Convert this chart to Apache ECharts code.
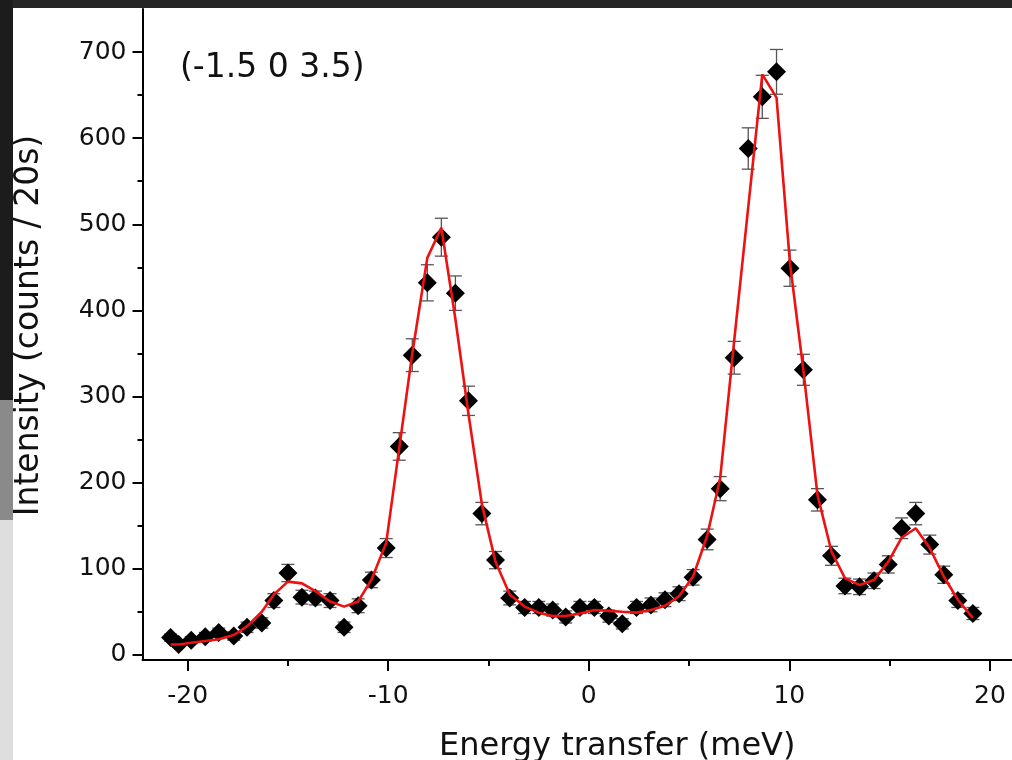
<!DOCTYPE html>
<html>
<head>
<meta charset="utf-8">
<script src="https://cdn.jsdelivr.net/npm/echarts@6/dist/echarts.min.js"></script>
<style>
html,body{margin:0;padding:0;background:#fff;}
#chart{width:1012px;height:760px;}
</style>
</head>
<body>
<div id="chart"></div>
<script>
// Energy transfer (meV) of each measured point
const energies = [-20.85, -20.45, -19.82, -19.12, -18.45, -17.7, -17.04, -16.3, -15.7, -15.0, -14.3, -13.63, -12.9, -12.2, -11.5, -10.84, -10.1, -9.45, -8.8, -8.05, -7.35, -6.65, -6.0, -5.33, -4.65, -3.94, -3.2, -2.49, -1.8, -1.15, -0.44, 0.28, 1.0, 1.67, 2.38, 3.1, 3.8, 4.5, 5.2, 5.9, 6.55, 7.25, 7.95, 8.65, 9.36, 10.03, 10.7, 11.4, 12.1, 12.77, 13.5, 14.22, 14.93, 15.6, 16.3, 17.0, 17.7, 18.4, 19.15];
// Measured intensity (counts / 20s)
const intensities = [20, 12, 17, 21, 26, 22, 32, 37, 63, 95, 67, 66, 63, 32, 57, 87, 124, 242, 348, 432, 485, 420, 295, 164, 110, 66, 55, 55, 52, 44, 55, 55, 45, 36, 55, 58, 64, 71, 90, 134, 193, 345, 588, 648, 677, 449, 331, 180, 115, 80, 79, 86, 105, 147, 164, 128, 93, 63, 48];
// Error bar half-heights
const errors = [4, 3, 4, 5, 5, 5, 6, 6, 8, 10, 8, 8, 8, 6, 8, 9, 11, 16, 19, 21, 22, 20, 17, 13, 10, 8, 7, 7, 7, 7, 7, 7, 7, 6, 7, 8, 8, 8, 9, 12, 14, 19, 24, 25, 26, 21, 18, 13, 11, 9, 9, 9, 10, 12, 13, 11, 10, 8, 7];
// Fit curve (red) at the same energies
const fitValues = [12, 12, 14, 16, 18, 23, 33, 50, 70, 85, 83, 74, 62, 56, 62, 87, 130, 240, 350, 461, 496, 390, 280, 175, 108, 70, 56, 49, 45, 45, 48, 52, 51, 50, 49, 52, 57, 68, 91, 138, 205, 365, 520, 674, 647, 455, 330, 186, 120, 89, 81, 87, 108, 136, 147, 124, 91, 64, 43];

const xMajorTicks = [-20, -10, 0, 10, 20];
const xMinorTicks = [-15, -5, 5, 15];
const yMajorTicks = [0, 100, 200, 300, 400, 500, 600, 700];
const yMinorTicks = [50, 150, 250, 350, 450, 550, 650];
const annotation = '(-1.5 0 3.5)';
const xTitle = 'Energy transfer (meV)';
const yTitle = 'Intensity (counts / 20s)';

const FONT = 'DejaVu Sans';
const chart = echarts.init(document.getElementById('chart'), null, {renderer: 'canvas'});

const points = energies.map((e, i) => [e, intensities[i]]);
const errData = energies.map((e, i) => [e, intensities[i] - errors[i], intensities[i] + errors[i]]);
const fitData = energies.map((e, i) => [e, fitValues[i]]);

const X_MIN = -22.25, X_MAX = 21.1, Y_MIN = -6, Y_MAX = 750;

const axisLineStyle = {show: true, onZero: false, lineStyle: {color: '#000', width: 2}};

chart.setOption({
  animation: false,
  backgroundColor: '#fff',
  grid: {left: 142.5, right: 0, top: 9, bottom: 100, containLabel: false, outerBoundsMode: 'none'},
  graphic: [
    {type: 'rect', shape: {x: 0, y: 0, width: 1012, height: 8}, style: {fill: '#262626'}, silent: true, z: 100},
    {type: 'rect', shape: {x: 0, y: 0, width: 13, height: 400}, style: {fill: '#1c1c1c'}, silent: true, z: 100},
    {type: 'rect', shape: {x: 0, y: 400, width: 13, height: 120}, style: {fill: '#8a8a8a'}, silent: true, z: 100},
    {type: 'rect', shape: {x: 0, y: 520, width: 13, height: 240}, style: {fill: '#dedede'}, silent: true, z: 100},
    {type: 'text', left: 180, top: 52, style: {text: annotation, font: '33px "DejaVu Sans"', fill: '#111'}, z: 100}
  ],
  xAxis: [
    {
      type: 'value', min: X_MIN, max: X_MAX, position: 'bottom',
      name: xTitle, nameLocation: 'middle', nameGap: 71,
      nameTextStyle: {fontFamily: FONT, fontSize: 32, color: '#111', padding: [0, 0, 0, 80]},
      axisLine: axisLineStyle,
      axisTick: {show: true, inside: false, length: 11, lineStyle: {color: '#000', width: 2}, customValues: xMajorTicks},
      axisLabel: {show: true, margin: 24, fontFamily: FONT, fontSize: 25, color: '#111', customValues: xMajorTicks, showMinLabel: true, showMaxLabel: true},
      splitLine: {show: false}
    },
    {
      type: 'value', min: X_MIN, max: X_MAX, position: 'bottom',
      axisLine: {show: false, onZero: false},
      axisTick: {show: true, inside: false, length: 6, lineStyle: {color: '#000', width: 2}, customValues: xMinorTicks},
      axisLabel: {show: false},
      splitLine: {show: false}
    }
  ],
  yAxis: [
    {
      type: 'value', min: Y_MIN, max: Y_MAX, position: 'left',
      name: yTitle, nameLocation: 'middle', nameGap: 97,
      nameTextStyle: {fontFamily: FONT, fontSize: 33, color: '#111', padding: [0, 0, 0, 18]},
      axisLine: axisLineStyle,
      axisTick: {show: true, inside: false, length: 10, lineStyle: {color: '#000', width: 2}, customValues: yMajorTicks},
      axisLabel: {show: true, margin: 16, fontFamily: FONT, fontSize: 25, color: '#111', customValues: yMajorTicks},
      splitLine: {show: false}
    },
    {
      type: 'value', min: Y_MIN, max: Y_MAX, position: 'left',
      axisLine: {show: false, onZero: false},
      axisTick: {show: true, inside: false, length: 5, lineStyle: {color: '#000', width: 2}, customValues: yMinorTicks},
      axisLabel: {show: false},
      splitLine: {show: false}
    }
  ],
  series: [
    {
      type: 'custom', name: 'errors', xAxisIndex: 0, yAxisIndex: 0, z: 2,
      data: errData,
      encode: {x: 0, y: [1, 2]},
      renderItem: function (params, api) {
        const x = api.value(0);
        const lo = api.coord([x, api.value(1)]);
        const hi = api.coord([x, api.value(2)]);
        const w = 6.5;
        const st = {stroke: '#555', lineWidth: 1.3};
        return {
          type: 'group',
          children: [
            {type: 'line', shape: {x1: lo[0], y1: lo[1], x2: hi[0], y2: hi[1]}, style: st},
            {type: 'line', shape: {x1: lo[0] - w, y1: lo[1], x2: lo[0] + w, y2: lo[1]}, style: st},
            {type: 'line', shape: {x1: hi[0] - w, y1: hi[1], x2: hi[0] + w, y2: hi[1]}, style: st}
          ]
        };
      }
    },
    {
      type: 'scatter', name: 'data', xAxisIndex: 0, yAxisIndex: 0, z: 3,
      data: points, symbol: 'diamond', symbolSize: 19,
      itemStyle: {color: '#000', opacity: 1}
    },
    {
      type: 'line', name: 'fit', xAxisIndex: 0, yAxisIndex: 0, z: 4,
      data: fitData, showSymbol: false, smooth: false,
      lineStyle: {color: '#ee1111', width: 2.6}
    }
  ]
});
</script>
</body>
</html>
